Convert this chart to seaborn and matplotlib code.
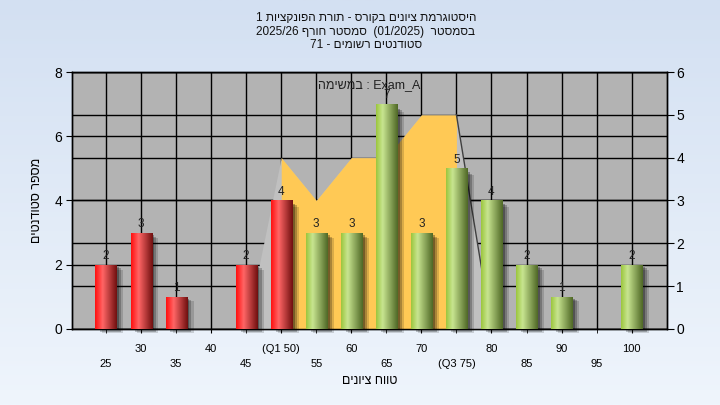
import numpy as np
import matplotlib
matplotlib.use("Agg")
import matplotlib.pyplot as plt
import matplotlib.transforms as mtransforms
from matplotlib.colors import LinearSegmentedColormap
from matplotlib.patches import Rectangle
import seaborn as sns

# ---------------- data ----------------
grades = ["25", "30", "35", "40", "45", "50", "55", "60",
          "65", "70", "75", "80", "85", "90", "95", "100"]
tick_labels = ["25", "30", "35", "40", "45", "(Q1 50)", "55", "60",
               "65", "70", "(Q3 75)", "80", "85", "90", "95", "100"]
students = [2, 3, 1, 0, 2, 4, 3, 3, 7, 3, 5, 4, 2, 1, 0, 2]
status = ["fail"] * 6 + ["pass"] * 10

# distribution area (right axis units)
area_grades = ["45", "50", "55", "60", "65", "70", "75", "80"]
area_values = [0, 4, 3, 4, 4, 5, 5, 0]
q1_grade, q3_grade = "50", "75"

# hebrew text in visual (left-to-right) order
title_lines = ["1 תויצקנופה תרות - סרוקב םינויצ תמרגוטסיה",
               "2025/26 ףרוח רטסמס  (01/2025)  רטסמסב",
               "71 - םימושר םיטנדוטס"]
task_note = "המישמב : Exam_A"
x_title = "םינויצ חווט"
y_title = "םיטנדוטס רפסמ"

plt.rcParams["font.family"] = ["Liberation Sans", "DejaVu Sans"]

fig = plt.figure(figsize=(7.2, 4.05), dpi=100)

# background gradient
bg = fig.add_axes([0, 0, 1, 1])
bg_cmap = LinearSegmentedColormap.from_list("bg", ["#EFF5FC", "#D3E0F2"])
bg.imshow(np.linspace(0, 1, 256).reshape(-1, 1), cmap=bg_cmap, aspect="auto",
          extent=[0, 1, 0, 1], origin="lower")
bg.axis("off")
bg.set_zorder(-2)

ax = fig.add_axes([0.1, 0.188, 0.826, 0.634])
ax2 = ax.twinx()
ax2.set_zorder(0)
ax.set_zorder(1)
ax.patch.set_visible(False)
ax2.patch.set_visible(True)
ax2.patch.set_facecolor("#B3B3B3")

sns.barplot(x=grades, y=students, hue=status, order=grades,
            palette={"fail": "#E02020", "pass": "#8DB840"},
            dodge=False, width=0.6, legend=False, ax=ax, zorder=3)

# area (converted from right axis scale to left axis scale)
scale = 8 / 6
pos = {g: i for i, g in enumerate(grades)}
ax_x = np.array([pos[g] for g in area_grades])
ax_y = np.array(area_values) * scale
ax.fill_between(ax_x, ax_y, color="#C0C0C0", lw=0, zorder=1)
i0, i1 = area_grades.index(q1_grade), area_grades.index(q3_grade)
ax.fill_between(ax_x[i0:i1 + 1], ax_y[i0:i1 + 1], color="#FFC955", lw=0, zorder=1.1)
ax.plot(ax_x[i1:], ax_y[i1:], color="#404040", lw=1, zorder=1.2)

# gradient bars + shadows + value labels
red_cmap = LinearSegmentedColormap.from_list(
    "r", [(0, "#FF1010"), (0.35, "#FF6565"), (1, "#701010")])
green_cmap = LinearSegmentedColormap.from_list(
    "g", [(0, "#9CC63E"), (0.3, "#C8E590"), (1, "#4F6826")])
grad = np.linspace(0, 1, 64).reshape(1, -1)
for p in list(ax.patches):
    h = p.get_height()
    if h <= 0:
        continue
    x0, w = p.get_x(), p.get_width()
    fc = p.get_facecolor()
    cmap = red_cmap if fc[0] > 0.7 else green_cmap
    p.set_edgecolor("none")
    for k, a in enumerate([0.3, 0.22, 0.15]):
        off = mtransforms.ScaledTranslation((2 + 1.5 * k) / 72, -(1 + k) / 72,
                                            fig.dpi_scale_trans)
        sh = Rectangle((x0, 0), w, h * 0.985, transform=ax.transData + off,
                       color="black", alpha=a, lw=0, zorder=2, clip_on=False)
        ax.add_patch(sh)
    im = ax.imshow(grad, cmap=cmap, aspect="auto", extent=[x0, x0 + w, 0, h],
                   zorder=3, interpolation="bilinear")
    im.set_clip_path(p)
    ax.annotate(f"{int(h)}", (x0 + w / 2, h), xytext=(0, 2),
                textcoords="offset points", ha="center", va="bottom",
                fontsize=8.5, color="#222222", zorder=4)

# axes limits / ticks
ax.set_xlim(-0.97, 16.0)
ax.set_ylim(0, 8)
ax2.set_ylim(0, 6)
ax.set_yticks([0, 2, 4, 6, 8])
ax2.set_yticks(range(7))

idx = np.arange(len(grades))
ax.set_xticks(idx[1::2], [tick_labels[i] for i in idx[1::2]])
ax.set_xticks(idx[0::2], [tick_labels[i] for i in idx[0::2]], minor=True)
ax.tick_params(axis="x", which="major", length=3, pad=8, labelsize=8)
ax.tick_params(axis="x", which="minor", length=3, pad=19, labelsize=8)
ax.tick_params(axis="y", length=4, labelsize=10, pad=3)
ax2.tick_params(axis="y", length=5, labelsize=10, pad=2)

ax.set_axisbelow(True)
ax.grid(axis="x", which="both", color="black", lw=1)
ax.grid(axis="y", color="black", lw=1)
ax2.grid(axis="y", color="black", lw=1)
for a in (ax, ax2):
    for s in a.spines.values():
        s.set_color("black")
        s.set_linewidth(1)

ax.set_xlabel(x_title, fontsize=9, labelpad=4)
ax.set_ylabel(y_title, fontsize=9, labelpad=8)
ax.text(0.5, 0.95, task_note, transform=ax.transAxes, ha="center", va="center",
        fontsize=9, color="#222222", zorder=5)

for k, line in enumerate(title_lines):
    fig.text(0.508, 0.956 - k * 0.034, line, ha="center", va="center",
             fontsize=8.5, color="#111111")

fig.savefig("out.png", dpi=100)
